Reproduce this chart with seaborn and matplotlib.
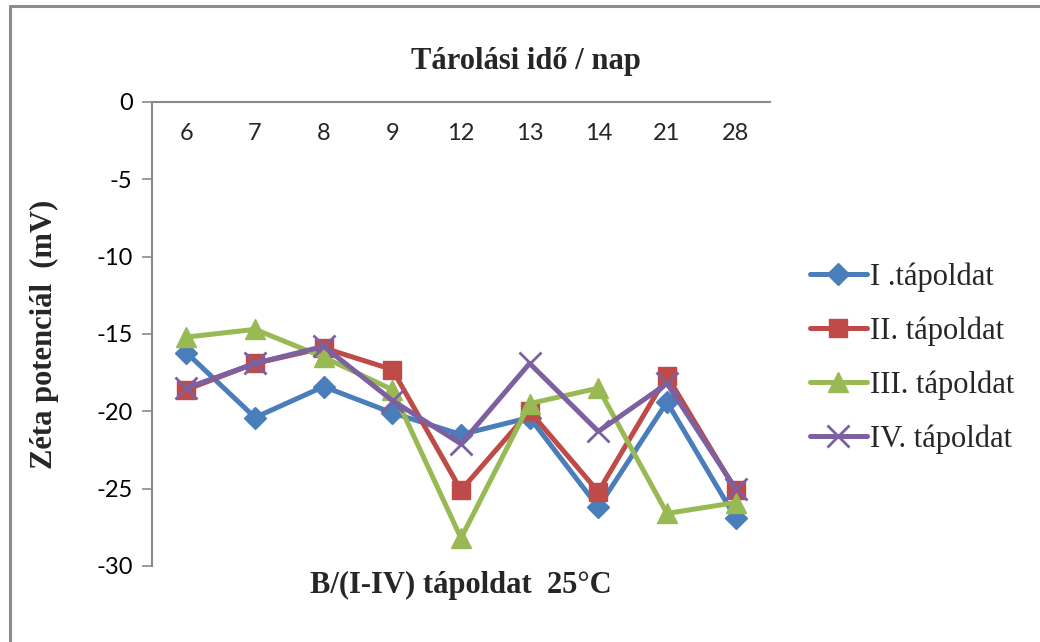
import pandas as pd
import seaborn as sns
import matplotlib.pyplot as plt
from matplotlib.lines import Line2D

# storage time (days) and zeta potential readings for the four nutrient solutions
days = ['6', '7', '8', '9', '12', '13', '14', '21', '28']
series_names = ['I .tápoldat', 'II. tápoldat', 'III. tápoldat', 'IV. tápoldat']
zeta_I = [-16.2, -20.4, -18.4, -20.1, -21.5, -20.4, -26.2, -19.4, -26.9]
zeta_II = [-18.6, -16.9, -15.9, -17.3, -25.1, -20.0, -25.2, -17.7, -25.1]
zeta_III = [-15.2, -14.7, -16.5, -18.6, -28.2, -19.5, -18.5, -26.6, -25.9]
zeta_IV = [-18.5, -16.9, -15.8, -19.3, -22.1, -16.9, -21.3, -18.2, -25.0]
y_ticks = [0, -5, -10, -15, -20, -25, -30]

colors = ['#4a7ebb', '#be4b48', '#98b954', '#7d60a0']
markers = ['D', 's', '^', 'x']
msizes = [11, 13, 15, 16]

sns.set_style('white')
plt.rcParams['font.family'] = ['Liberation Serif', 'DejaVu Serif']

fig = plt.figure(figsize=(10.4, 6.42), dpi=100)
ax = fig.add_axes([152 / 1040, 1 - 566 / 642, 618 / 1040, 464 / 642])

values = [zeta_I, zeta_II, zeta_III, zeta_IV]
for name, vals, c, m, ms in zip(series_names, values, colors, markers, msizes):
    df = pd.DataFrame({'nap': days, 'zeta': vals})
    sns.lineplot(data=df, x='nap', y='zeta', ax=ax, color=c, marker=m,
                 markersize=ms, markeredgecolor=c,
                 markeredgewidth=2 if m == 'x' else 1, lw=3.6, sort=False,
                 label=name)

ax.set_ylim(-30, 0)
ax.set_xlim(-0.5, len(days) - 0.5)
ax.set_yticks(y_ticks)
ax.set_yticklabels([str(t) for t in y_ticks], family='Lato', fontsize=17)

# category labels sit just under the top (zero) axis line
ax.tick_params(axis='x', bottom=False, top=False, labelbottom=False,
               labeltop=True, pad=-34, labelsize=17)
for lab in ax.get_xticklabels():
    lab.set_family('Lato')
ax.tick_params(axis='y', left=True, length=7, width=1.2, color='#8a8a8a',
               pad=7, labelcolor='black')

for side in ['right', 'bottom']:
    ax.spines[side].set_visible(False)
for side in ['left', 'top']:
    ax.spines[side].set_color('#8a8a8a')
    ax.spines[side].set_linewidth(1.5)

ax.set_xlabel('B/(I-IV) tápoldat  25°C', fontsize=22, fontweight='bold')
ax.xaxis.set_label_position('bottom')
ax.xaxis.set_label_coords(0.5, -0.01)
ax.xaxis.label.set_va('top')
ax.set_ylabel('Zéta potenciál  (mV)', fontsize=22, fontweight='bold')
ax.yaxis.set_label_coords(-0.15, 0.5)

fig.text(526 / 1040, 1 - 62 / 642, 'Tárolási idő / nap', ha='center',
         va='center', fontsize=22, fontweight='bold')

ax.legend(loc='center left', bbox_to_anchor=(810 / 1040, 1 - 358 / 642),
          bbox_transform=fig.transFigure, frameon=False, fontsize=22,
          handlelength=1.85, handletextpad=0.1, labelspacing=0.8,
          borderpad=0, borderaxespad=0)

# outer chart-area border (left and top edges visible)
fig.add_artist(Line2D([10 / 1040, 10 / 1040], [0, 1 - 6 / 642],
                      transform=fig.transFigure, color='#8c8c8c', lw=2.2))
fig.add_artist(Line2D([10 / 1040, 1], [1 - 6 / 642, 1 - 6 / 642],
                      transform=fig.transFigure, color='#8c8c8c', lw=2.2))

fig.savefig('out.png', dpi=100)
